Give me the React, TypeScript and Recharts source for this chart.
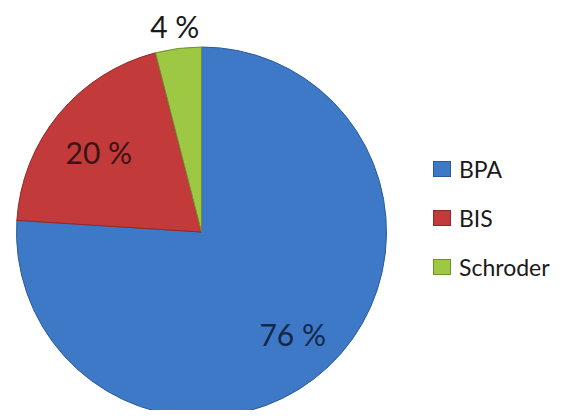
import React from "react";
import { PieChart, Pie, Cell, Legend } from "recharts";

const names = ["BPA", "BIS", "Schroder"];
const values = [76, 20, 4];
const colors = ["#3E79C8", "#C23A3A", "#9DC843"];
const strokes = ["#2B5A98", "#8E2A2A", "#6F8F2E"];
const labelColors = ["#142848", "#3A1414", "#1A1A1A"];

const data = names.map((n, i) => ({ name: n, value: values[i] }));

const RAD = Math.PI / 180;
const renderLabel = (props: any) => {
  const { cx, cy, midAngle, outerRadius, percent, index } = props;
  const r = percent < 0.1 ? outerRadius + 28 : outerRadius * 0.72;
  const x = cx + r * Math.cos(-midAngle * RAD);
  const y = cy + r * Math.sin(-midAngle * RAD) + 5;
  return (
    <text
      x={x}
      y={y}
      fill={labelColors[index]}
      textAnchor="middle"
      dominantBaseline="central"
      fontSize={30}
      fontFamily="Lato, 'Open Sans', sans-serif"
    >
      {`${values[index]} %`}
    </text>
  );
};

const LegendContent = () => (
  <div style={{ fontFamily: "Lato, 'Open Sans', sans-serif" }}>
    {data.map((d, i) => (
      <div
        key={d.name}
        style={{ display: "flex", alignItems: "center", height: 49, fontSize: 23, color: "#1a1a1a" }}
      >
        <span
          style={{
            display: "inline-block",
            width: 16,
            height: 14,
            background: colors[i],
            border: `1px solid ${strokes[i]}`,
            marginRight: 8,
          }}
        />
        {d.name}
      </div>
    ))}
  </div>
);

export default function App() {
  return (
    <div style={{ margin: -8, background: "#fff", width: 563, height: 418 }}>
      <PieChart width={563} height={418} margin={{ top: 0, right: 0, bottom: 0, left: 0 }}>
        <Pie
          data={data}
          dataKey="value"
          nameKey="name"
          cx={201.5}
          cy={232}
          outerRadius={185}
          startAngle={90}
          endAngle={-270}
          label={renderLabel}
          labelLine={false}
          isAnimationActive={false}
        >
          {data.map((d, i) => (
            <Cell key={d.name} fill={colors[i]} stroke={strokes[i]} strokeWidth={1} />
          ))}
        </Pie>
        <Legend
          content={<LegendContent />}
          wrapperStyle={{ position: "absolute", left: 433, top: 144, width: 130 }}
        />
      </PieChart>
    </div>
  );
}
